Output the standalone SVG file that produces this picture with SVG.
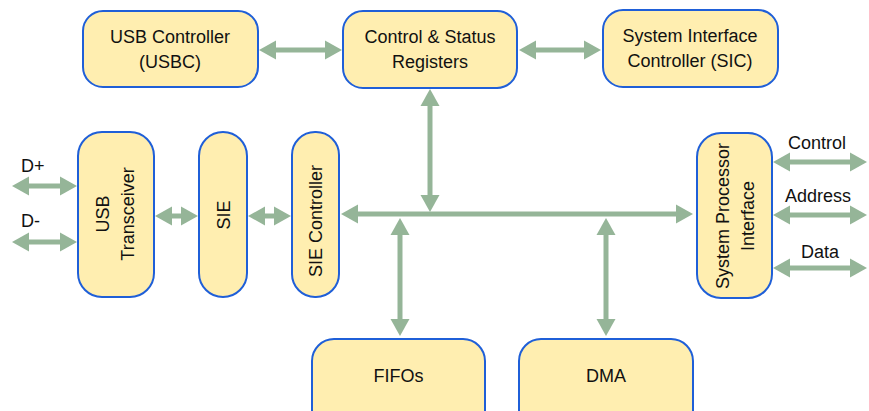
<svg xmlns="http://www.w3.org/2000/svg" width="869" height="411" viewBox="0 0 869 411">
<style>
.box{fill:#FFEEB0;stroke:#1F5FD8;stroke-width:2}
.t{font-family:"Liberation Sans",Arial,sans-serif;font-size:18px;fill:#111;text-anchor:middle}
.l{font-family:"Liberation Sans",Arial,sans-serif;font-size:18px;fill:#111}
.c{fill:none;stroke:#95B598;stroke-width:5}
</style>
<defs>
<marker id="ah" markerUnits="userSpaceOnUse" markerWidth="20" markerHeight="22" viewBox="0 -11 20 22" refX="1" refY="0" orient="auto-start-reverse" overflow="visible">
<path d="M0,-9.5 L17,0 L0,9.5 z" fill="#95B598"/>
</marker>
</defs>
<rect width="869" height="411" fill="#fff"/>
<g id="connectors">
<path class="c" d="M275,50 H326" marker-start="url(#ah)" marker-end="url(#ah)"/>
<path class="c" d="M535,50 H585" marker-start="url(#ah)" marker-end="url(#ah)"/>
<path class="c" d="M430,105 V196" marker-start="url(#ah)" marker-end="url(#ah)"/>
<path class="c" d="M357,214 H677" marker-start="url(#ah)" marker-end="url(#ah)"/>
<path class="c" d="M400,234 V320" marker-start="url(#ah)" marker-end="url(#ah)"/>
<path class="c" d="M606,234 V320" marker-start="url(#ah)" marker-end="url(#ah)"/>
<path class="c" d="M28,186 H61" marker-start="url(#ah)" marker-end="url(#ah)"/>
<path class="c" d="M28,242 H61" marker-start="url(#ah)" marker-end="url(#ah)"/>
<path class="c" d="M171,216 H182" marker-start="url(#ah)" marker-end="url(#ah)"/>
<path class="c" d="M264,216 H275" marker-start="url(#ah)" marker-end="url(#ah)"/>
<path class="c" d="M789,162 H851" marker-start="url(#ah)" marker-end="url(#ah)"/>
<path class="c" d="M789,215 H851" marker-start="url(#ah)" marker-end="url(#ah)"/>
<path class="c" d="M789,268 H851" marker-start="url(#ah)" marker-end="url(#ah)"/>
</g>
<g id="usbc">
<rect class="box" x="83" y="11" width="175" height="76" rx="20"/>
<text class="t" x="170" y="43">USB Controller</text>
<text class="t" x="170" y="68">(USBC)</text>
</g>
<g id="csr">
<rect class="box" x="343" y="11" width="174" height="77" rx="20"/>
<text class="t" x="430" y="43">Control &amp; Status</text>
<text class="t" x="430" y="68">Registers</text>
</g>
<g id="sic">
<rect class="box" x="603" y="10" width="175" height="77" rx="20"/>
<text class="t" x="690" y="42">System Interface</text>
<text class="t" x="690" y="67">Controller (SIC)</text>
</g>
<g id="transceiver">
<rect class="box" x="78" y="132" width="76" height="165" rx="24"/>
<g transform="translate(116,214) rotate(-90)">
<text class="t" x="0" y="-7">USB</text>
<text class="t" x="0" y="18">Transceiver</text>
</g>
</g>
<g id="sie">
<rect class="box" x="199" y="132" width="48" height="165" rx="24"/>
<text class="t" transform="translate(223,215) rotate(-90)" x="0" y="6.5">SIE</text>
</g>
<g id="siectrl">
<rect class="box" x="292" y="132" width="47" height="165" rx="23"/>
<text class="t" transform="translate(315.5,221) rotate(-90)" x="0" y="6.5">SIE Controller</text>
</g>
<g id="spi">
<rect class="box" x="697" y="133" width="75" height="165" rx="24"/>
<g transform="translate(734.5,216) rotate(-90)">
<text class="t" x="0" y="-6">System Processor</text>
<text class="t" x="0" y="19">Interface</text>
</g>
</g>
<g id="fifos">
<rect class="box" x="312" y="339" width="173" height="95" rx="22"/>
<text class="t" x="398.5" y="382">FIFOs</text>
</g>
<g id="dma">
<rect class="box" x="519" y="339" width="174" height="95" rx="22"/>
<text class="t" x="606" y="382">DMA</text>
</g>
<g id="labels">
<text class="l" x="21" y="172">D+</text>
<text class="l" x="21" y="227">D-</text>
<text class="l" x="817" y="149" text-anchor="middle">Control</text>
<text class="l" x="818" y="202" text-anchor="middle">Address</text>
<text class="l" x="820" y="258" text-anchor="middle">Data</text>
</g>
</svg>
